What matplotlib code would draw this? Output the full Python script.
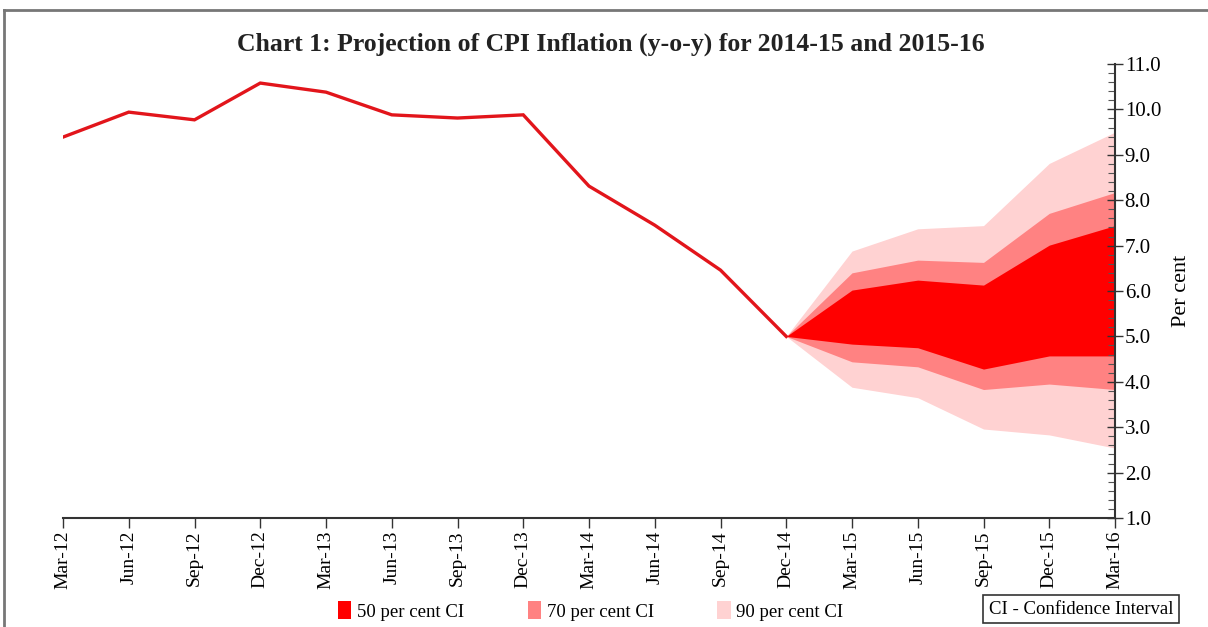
import matplotlib.pyplot as plt
from matplotlib.patches import Patch
from matplotlib.lines import Line2D
from matplotlib.ticker import MultipleLocator, FormatStrFormatter

quarters = ['Mar-12', 'Jun-12', 'Sep-12', 'Dec-12', 'Mar-13', 'Jun-13', 'Sep-13',
            'Dec-13', 'Mar-14', 'Jun-14', 'Sep-14', 'Dec-14', 'Mar-15', 'Jun-15',
            'Sep-15', 'Dec-15', 'Mar-16']
cpi = [9.39, 9.94, 9.77, 10.58, 10.38, 9.88, 9.81, 9.88, 8.31, 7.45, 6.46, 5.0]

# projection bands, Dec-14 to Mar-16
ci50_hi = [5.0, 6.02, 6.24, 6.13, 7.01, 7.44]
ci50_lo = [5.0, 4.83, 4.75, 4.28, 4.57, 4.57]
ci70_hi = [5.0, 6.40, 6.68, 6.63, 7.71, 8.17]
ci70_lo = [5.0, 4.44, 4.33, 3.83, 3.95, 3.83]
ci90_hi = [5.0, 6.88, 7.37, 7.44, 8.81, 9.50]
ci90_lo = [5.0, 3.88, 3.65, 2.96, 2.83, 2.54]

c50 = '#ff0000'
c70 = '#ff8282'
c90 = '#ffd2d2'
line_col = '#e2151b'

plt.rcParams['font.family'] = ['Liberation Serif', 'DejaVu Serif']

fig = plt.figure(figsize=(12.08, 6.27), dpi=100)
ax = fig.add_axes([63 / 1208, 1 - 518 / 627, (1115 - 63) / 1208, (518 - 64) / 627])

x = list(range(len(quarters)))
xf = x[11:]
ax.fill_between(xf, ci90_lo, ci90_hi, color=c90, lw=0)
ax.fill_between(xf, ci70_lo, ci70_hi, color=c70, lw=0)
ax.fill_between(xf, ci50_lo, ci50_hi, color=c50, lw=0)
ax.plot(x[:len(cpi)], cpi, color=line_col, lw=2.4, solid_joinstyle='miter')

ax.set_xlim(0, len(quarters) - 1)
ax.set_ylim(1.0, 11.0)
ax.set_xticks(x)
ax.set_xticklabels(quarters, rotation=90, fontsize=14)
ax.tick_params(axis='x', length=7, width=1, color='#333333', pad=2)

ax.yaxis.tick_right()
ax.yaxis.set_label_position('right')
ax.yaxis.set_major_locator(MultipleLocator(1.0))
ax.yaxis.set_minor_locator(MultipleLocator(0.2))
ax.yaxis.set_major_formatter(FormatStrFormatter('%.1f'))
ax.tick_params(axis='y', which='major', direction='inout', length=12, width=1,
               color='#333333', labelsize=15, pad=1)
ax.tick_params(axis='y', which='minor', direction='in', length=5, width=0.8,
               color='#555555')
ax.set_ylabel('Per cent', fontsize=16, labelpad=8)

for s in ['top', 'left']:
    ax.spines[s].set_visible(False)
for s in ['right', 'bottom']:
    ax.spines[s].set_color('#333333')
    ax.spines[s].set_linewidth(1.5)

fig.text(0.506, 1 - 44 / 627, 'Chart 1: Projection of CPI Inflation (y-o-y) for 2014-15 and 2015-16',
         ha='center', va='center', fontsize=18.5, fontweight='bold', color='#222222')

handles = [Patch(facecolor=c50, edgecolor='none'),
           Patch(facecolor=c70, edgecolor='none'),
           Patch(facecolor=c90, edgecolor='none')]
labels = ['50 per cent CI', '70 per cent CI', '90 per cent CI']
fig.legend(handles, labels, loc='center', bbox_to_anchor=(0.489, 1 - 611 / 627),
           ncol=3, frameon=False, fontsize=13.5, handlelength=0.7, handleheight=1.1,
           handletextpad=0.3, columnspacing=3.4)

fig.text(1081 / 1208, 1 - 609 / 627, 'CI - Confidence Interval', ha='center', va='center',
         fontsize=13.5, bbox=dict(boxstyle='square,pad=0.3', fc='white', ec='#333333', lw=1.2))

# outer frame
fig.add_artist(Line2D([4 / 1208, 1], [1 - 10 / 627, 1 - 10 / 627],
                      transform=fig.transFigure, color='#777777', lw=2))
fig.add_artist(Line2D([4 / 1208, 4 / 1208], [0, 1 - 10 / 627],
                      transform=fig.transFigure, color='#777777', lw=2))

fig.savefig('out.png', dpi=100)
